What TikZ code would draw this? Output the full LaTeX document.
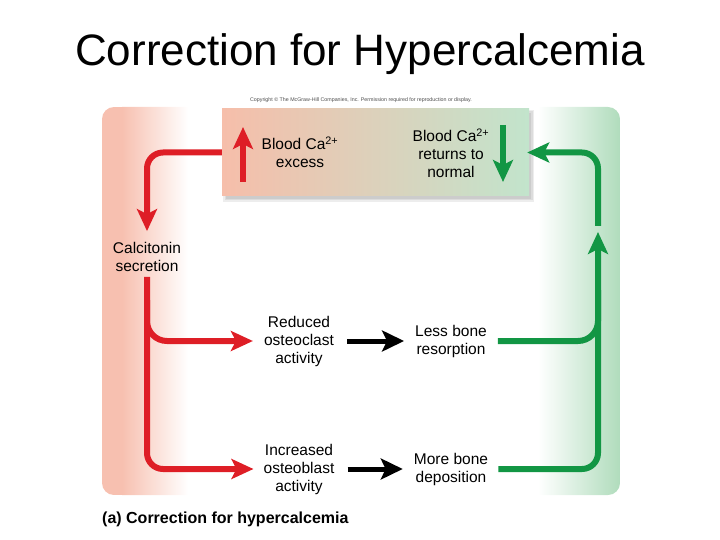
\documentclass[tikz,border=0pt]{standalone}
\usepackage{fontspec}
\setmainfont{Liberation Sans}
\usetikzlibrary{arrows.meta,positioning}

\definecolor{hyperred}{RGB}{222,30,38}
\definecolor{normgreen}{RGB}{18,150,68}
\definecolor{panelpink}{RGB}{247,192,176}
\definecolor{panelgreen}{RGB}{176,220,188}
\definecolor{boxpink}{RGB}{246,190,170}
\definecolor{boxgreen}{RGB}{194,228,204}

\begin{document}
\begin{tikzpicture}[
  x=1pt,y=-1pt,
  label text/.style={align=center,font=\fontsize{15.5}{18}\selectfont,inner sep=3pt},
  big tip/.style={-{Stealth[length=22pt,width=20pt,inset=5pt]}},
  red flow/.style={draw=hyperred,line width=6pt,rounded corners=16pt,big tip},
  green flow/.style={draw=normgreen,line width=6pt,rounded corners=16pt},
  black flow/.style={draw=black,line width=5pt,-{Stealth[length=22pt,width=21pt,inset=5pt]}},
  top box/.style={rectangle,minimum width=307pt,minimum height=87pt,inner sep=0pt,
    left color=boxpink,right color=boxgreen}
]
\useasboundingbox (0,0) rectangle (720,540);

\node[font=\fontsize{44}{50}\selectfont,anchor=base] (title) at (360,66) {Correction for Hypercalcemia};
\node[font=\fontsize{5.3}{6}\selectfont,text=black!70] (copyright) at (361,100)
  {Copyright \textcopyright\ The McGraw-Hill Companies, Inc. Permission required for reproduction or display.};

% panel with the two coloured edges
\begin{scope}
  \clip[rounded corners=12pt] (102,107) rectangle (620,495);
  \fill[panelpink] (102,107) rectangle (122,495);
  \shade[left color=panelpink,right color=white] (122,107) rectangle (188,495);
  \shade[left color=white,right color=panelgreen] (538,107) rectangle (620,495);
\end{scope}

% blood level box
\foreach \s in {0,1.5,3}
  \fill[black,opacity=0.07] ({226-\s},{113-\s}) rectangle ({531+\s},{199+\s});
\node[top box] (topbox) at (375.5,152.5) {};
\node[label text] (excess) at (300,152) {Blood Ca\textsuperscript{2+}\\excess};
\node[label text] (normal) at (451,153) {Blood Ca\textsuperscript{2+}\\returns to\\normal};
\draw[hyperred,line width=6pt,big tip] (243,182) -- (243,127);
\draw[normgreen,line width=6pt,big tip] (503,125) -- (503,182);

\node[label text] (calc) at (147,257) {Calcitonin\\secretion};
\node[label text] (reduced) at (299,341) {Reduced\\osteoclast\\activity};
\node[label text] (lessbone) at (451,341) {Less bone\\resorption};
\node[label text] (increased) at (299,469) {Increased\\osteoblast\\activity};
\node[label text] (morebone) at (451,469) {More bone\\deposition};

\coordinate (fork) at (147,300);
\coordinate (gjoin) at (598,290);
\coordinate (gmid) at (598,232);
\coordinate (gtop) at (598,226);

\draw[red flow] (topbox.west) -| ([yshift=8pt]calc.north);
\draw[red flow,shorten <=2pt] (calc.south) |- ([xshift=-7pt]increased.west);
\draw[red flow,rounded corners=20pt] (fork) |- ([xshift=-8pt]reduced.west);

\draw[black flow] ([xshift=10pt]reduced.east) -- ([xshift=-8pt]lessbone.west);
\draw[black flow] ([xshift=10pt]increased.east) -- ([xshift=-8pt]morebone.west);

\draw[green flow,rounded corners=20pt] ([xshift=8pt]lessbone.east) -| (gjoin);
\draw[green flow,big tip] ([xshift=7pt]morebone.east) -| (gmid);
\draw[green flow,big tip] (gtop) |- ([xshift=-2pt]topbox.east);

\node[font=\bfseries\fontsize{16}{18}\selectfont,anchor=base west,inner sep=0pt] (caption)
  at (102,523) {(a) Correction for hypercalcemia};
\end{tikzpicture}
\end{document}
